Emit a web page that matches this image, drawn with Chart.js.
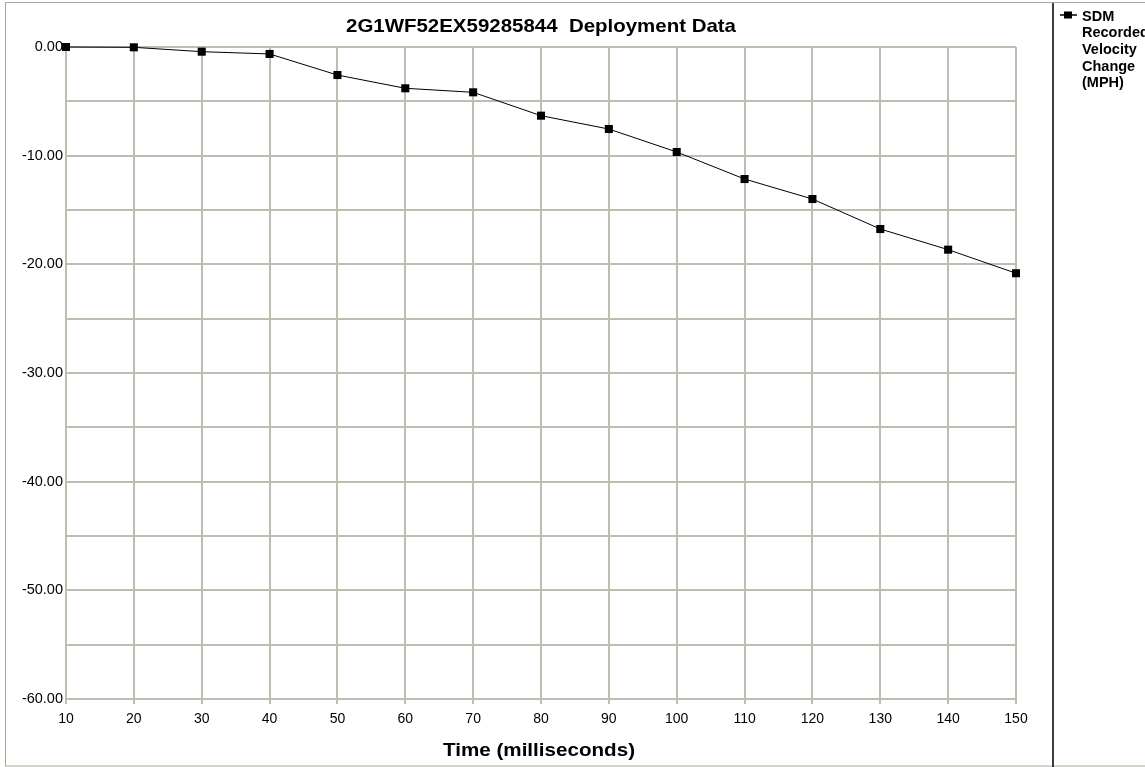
<!DOCTYPE html>
<html>
<head>
<meta charset="utf-8">
<script src="https://cdn.jsdelivr.net/npm/chart.js@4/dist/chart.umd.min.js"></script>
<style>
    html, body { margin: 0; padding: 0; background: #ffffff; }
    #wrap { width: 1145px; height: 767px; position: relative; }
</style>
</head>
<body>
<div id="wrap"><canvas id="deployChart" width="1145" height="767"></canvas></div>
<script>
// time (ms) and recorded velocity change (MPH)
const timeMs = [10, 20, 30, 40, 50, 60, 70, 80, 90, 100, 110, 120, 130, 140, 150];
const velocityChange = [0, -0.03, -0.43, -0.64, -2.58, -3.8, -4.17, -6.32, -7.55, -9.66, -12.15, -13.99, -16.75, -18.65, -20.82];
const chartTitle = '2G1WF52EX59285844  Deployment Data';
const xAxisTitle = 'Time (milliseconds)';
const legendLines = ['SDM', 'Recorded', 'Velocity', 'Change', '(MPH)'];

const gridColor = '#c0bcb0';
const fontFamily = '"Liberation Sans", Arial, sans-serif';

// draw text centred at (cx, cy), squeezed/stretched to a given width
function fitText(ctx, txt, cx, cy, width) {
    const w = ctx.measureText(txt).width;
    ctx.save();
    ctx.translate(cx, cy);
    ctx.scale(width / w, 1);
    ctx.fillText(txt, 0, 0);
    ctx.restore();
}

// frame, titles and legend painted around the plot
const decorations = {
    id: 'decorations',
    beforeDraw(chart) {
        const ctx = chart.ctx;
        ctx.save();
        ctx.fillStyle = '#ffffff';
        ctx.fillRect(0, 0, chart.width, chart.height);
        ctx.strokeStyle = '#aca899';
        ctx.lineWidth = 1;
        ctx.strokeRect(5.5, 2.5, chart.width + 10, chart.height - 3.5);
        ctx.strokeStyle = '#3c3c3c';
        ctx.lineWidth = 2;
        ctx.beginPath();
        ctx.moveTo(1053, 3);
        ctx.lineTo(1053, chart.height);
        ctx.stroke();
        ctx.restore();
    },
    afterDraw(chart) {
        const ctx = chart.ctx;
        const area = chart.chartArea;
        const midX = (area.left + area.right) / 2;
        ctx.save();
        ctx.fillStyle = '#000000';
        ctx.textAlign = 'center';
        ctx.textBaseline = 'middle';
        ctx.font = 'bold 18.5px ' + fontFamily;
        fitText(ctx, chartTitle, midX, 27, 390);
        ctx.font = 'bold 18px ' + fontFamily;
        fitText(ctx, xAxisTitle, 539, 751, 192);

        // legend
        ctx.strokeStyle = '#000000';
        ctx.lineWidth = 1.5;
        ctx.beginPath();
        ctx.moveTo(1060, 15);
        ctx.lineTo(1077, 15);
        ctx.stroke();
        ctx.fillRect(1064, 11.5, 8, 7);
        ctx.font = 'bold 14.5px ' + fontFamily;
        ctx.textAlign = 'left';
        legendLines.forEach((txt, i) => {
            ctx.fillText(txt, 1082, 16.5 + i * 16.7);
        });
        ctx.restore();
    }
};

const ctx = document.getElementById('deployChart').getContext('2d');
new Chart(ctx, {
    type: 'line',
    data: {
        datasets: [{
            label: 'SDM Recorded Velocity Change (MPH)',
            data: timeMs.map((t, i) => ({ x: t, y: velocityChange[i] })),
            borderColor: '#000000',
            backgroundColor: '#000000',
            borderWidth: 1,
            pointStyle: 'rect',
            pointRadius: 5.7,
            pointBorderWidth: 0,
            tension: 0,
            clip: false
        }]
    },
    options: {
        responsive: false,
        animation: false,
        layout: { padding: { left: 0, right: 129, top: 47, bottom: 0 } },
        plugins: {
            legend: { display: false },
            title: { display: false },
            tooltip: { enabled: false }
        },
        scales: {
            x: {
                type: 'linear',
                min: 10,
                max: 150,
                afterFit: (scale) => { scale.height = 68; },
                grid: { color: gridColor, lineWidth: 2, tickLength: 5, drawTicks: true },
                border: { color: gridColor, width: 2 },
                ticks: {
                    stepSize: 10,
                    color: '#000000',
                    font: { family: fontFamily, size: 14 },
                    padding: 7
                },
                title: { display: false }
            },
            y: {
                min: -60,
                max: 0,
                afterFit: (scale) => { scale.width = 66; },
                grid: { color: gridColor, lineWidth: 2, drawTicks: false },
                border: { color: gridColor, width: 2 },
                ticks: {
                    stepSize: 5,
                    color: '#000000',
                    font: { family: fontFamily, size: 14.5 },
                    padding: 3,
                    callback: (v) => (v % 10 === 0 ? v.toFixed(2) : '')
                }
            }
        }
    },
    plugins: [decorations]
});
</script>
</body>
</html>
